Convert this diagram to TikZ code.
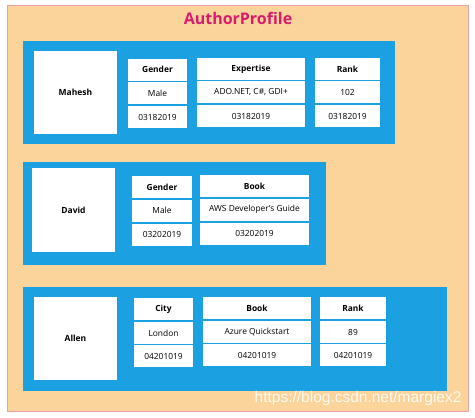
\documentclass[tikz,border=0pt]{standalone}
\usepackage{fontspec}
\setmainfont{Open Sans}
\newfontfamily\wmfont{Liberation Sans}
\definecolor{panelbg}{HTML}{FBD49B}
\definecolor{panelline}{HTML}{F2A0A8}
\definecolor{titlecol}{HTML}{D81B6E}
\definecolor{bluebg}{HTML}{1BA1E2}
\begin{document}
\begin{tikzpicture}[x=1pt,y=-1pt,
  outer/.style={draw=panelline,line width=0.8pt,fill=panelbg},
  bluepanel/.style={fill=bluebg,draw=none},
  namebox/.style={fill=white,draw=none,font=\fontsize{8.5}{10}\selectfont\bfseries,inner sep=0pt},
  cell/.style={fill=white,draw=none,font=\fontsize{8.4}{10}\selectfont,inner sep=0pt,minimum height=22pt},
  head/.style={cell,font=\fontsize{8.4}{10}\selectfont\bfseries}]
\useasboundingbox (0,0) rectangle (475,418);
\fill[white] (0,0) rectangle (475,418);
\node[outer,minimum width=461pt,minimum height=406pt,inner sep=0pt] (frame) at (237.5,208.5) {};
\node[font=\fontsize{16}{18}\selectfont\bfseries,text=titlecol] (title) at (238,18.5) {AuthorProfile};
% panel 1
\node[bluepanel,minimum width=372pt,minimum height=103pt,inner sep=0pt] (p1) at (209,92.5) {};
\node[namebox,minimum width=83pt,minimum height=83pt] (mahesh) at (75.5,92.5) {Mahesh};
\node[head,minimum width=59pt] (g1h) at (157.5,69.5) {Gender};
\node[cell,minimum width=59pt] (g1a) at (157.5,93) {Male};
\node[cell,minimum width=59pt] (g1b) at (157.5,117) {03182019};
\node[head,minimum width=108pt] (e1h) at (251,69) {Expertise};
\node[cell,minimum width=108pt] (e1a) at (251,92) {ADO.NET, C\#, GDI+};
\node[cell,minimum width=108pt] (e1b) at (251,116) {03182019};
\node[head,minimum width=65pt] (r1h) at (347.5,69) {Rank};
\node[cell,minimum width=65pt] (r1a) at (347.5,92) {102};
\node[cell,minimum width=65pt] (r1b) at (347.5,116) {03182019};
% panel 2
\node[bluepanel,minimum width=303pt,minimum height=103pt,inner sep=0pt] (p2) at (174.5,213.5) {};
\node[namebox,minimum width=83pt,minimum height=84pt] (david) at (73.5,210) {David};
\node[head,minimum width=60pt] (g2h) at (162,187) {Gender};
\node[cell,minimum width=60pt] (g2a) at (162,210.5) {Male};
\node[cell,minimum width=60pt] (g2b) at (162,234.5) {03202019};
\node[head,minimum width=109pt] (b2h) at (254.5,186) {Book};
\node[cell,minimum width=109pt] (b2a) at (254.5,209.5) {AWS Developer's Guide};
\node[cell,minimum width=109pt] (b2b) at (254.5,233.5) {03202019};
% panel 3
\node[bluepanel,minimum width=424pt,minimum height=104pt,inner sep=0pt] (p3) at (235,339) {};
\node[namebox,minimum width=83pt,minimum height=83pt] (allen) at (75.5,338.5) {Allen};
\node[head,minimum width=59pt] (c3h) at (163.5,309) {City};
\node[cell,minimum width=59pt] (c3a) at (163.5,333) {London};
\node[cell,minimum width=59pt] (c3b) at (163.5,356) {04201019};
\node[head,minimum width=108pt] (b3h) at (257,308) {Book};
\node[cell,minimum width=108pt] (b3a) at (257,332) {Azure Quickstart};
\node[cell,minimum width=108pt] (b3b) at (257,355) {04201019};
\node[head,minimum width=66pt] (r3h) at (353,308) {Rank};
\node[cell,minimum width=66pt] (r3a) at (353,332) {89};
\node[cell,minimum width=66pt] (r3b) at (353,355) {04201019};
% watermark
\node[font=\wmfont\fontsize{15.5}{17}\selectfont,text=white,opacity=0.85,anchor=east] (wm) at (465,398) {https://blog.csdn.net/margiex2};
\end{tikzpicture}
\end{document}
